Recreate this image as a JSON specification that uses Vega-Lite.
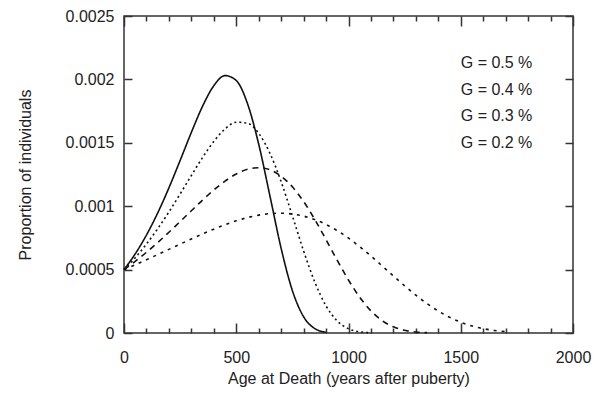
{
  "$schema": "https://vega.github.io/schema/vega-lite/v6.json",
  "width": 449,
  "height": 317,
  "autosize": {"type": "none"},
  "padding": {"left": 124, "top": 16, "right": 31, "bottom": 61},
  "background": "white",
  "config": {
    "font": "Liberation Sans",
    "view": {"stroke": "#333", "strokeWidth": 1.5},
    "axis": {
      "domain": false,
      "grid": false,
      "tickColor": "#333",
      "tickWidth": 1.5,
      "labelFont": "Liberation Sans",
      "labelFontSize": 16,
      "labelColor": "#222",
      "titleFont": "Liberation Sans",
      "titleFontSize": 16,
      "titleFontWeight": "normal",
      "titleColor": "#222"
    }
  },
  "datasets": {
    "curves": [
      {"t": 0, "p": 0.0005, "G": "0.5"},
      {"t": 50, "p": 0.000624, "G": "0.5"},
      {"t": 100, "p": 0.0007726, "G": "0.5"},
      {"t": 150, "p": 0.0009466, "G": "0.5"},
      {"t": 200, "p": 0.0011445, "G": "0.5"},
      {"t": 250, "p": 0.0013605, "G": "0.5"},
      {"t": 300, "p": 0.001582, "G": "0.5"},
      {"t": 350, "p": 0.0017886, "G": "0.5"},
      {"t": 400, "p": 0.0019503, "G": "0.5"},
      {"t": 450, "p": 0.00203, "G": "0.5"},
      {"t": 500, "p": 0.0019912, "G": "0.5"},
      {"t": 550, "p": 0.0018091, "G": "0.5"},
      {"t": 600, "p": 0.0014893, "G": "0.5"},
      {"t": 650, "p": 0.001081, "G": "0.5"},
      {"t": 700, "p": 0.0006673, "G": "0.5"},
      {"t": 750, "p": 0.0003344, "G": "0.5"},
      {"t": 800, "p": 0.0001283, "G": "0.5"},
      {"t": 850, "p": 0.0000349, "G": "0.5"},
      {"t": 900, "p": 0.0000061, "G": "0.5"},
      {"t": 0, "p": 0.0005, "G": "0.4"},
      {"t": 50, "p": 0.000594, "G": "0.4"},
      {"t": 100, "p": 0.0007014, "G": "0.4"},
      {"t": 150, "p": 0.0008221, "G": "0.4"},
      {"t": 200, "p": 0.0009547, "G": "0.4"},
      {"t": 250, "p": 0.0010965, "G": "0.4"},
      {"t": 300, "p": 0.0012422, "G": "0.4"},
      {"t": 350, "p": 0.001384, "G": "0.4"},
      {"t": 400, "p": 0.0015109, "G": "0.4"},
      {"t": 450, "p": 0.0016091, "G": "0.4"},
      {"t": 500, "p": 0.0016623, "G": "0.4"},
      {"t": 550, "p": 0.0016549, "G": "0.4"},
      {"t": 600, "p": 0.0015744, "G": "0.4"},
      {"t": 650, "p": 0.0014175, "G": "0.4"},
      {"t": 700, "p": 0.0011929, "G": "0.4"},
      {"t": 750, "p": 0.0009239, "G": "0.4"},
      {"t": 800, "p": 0.0006473, "G": "0.4"},
      {"t": 850, "p": 0.0004009, "G": "0.4"},
      {"t": 900, "p": 0.0002137, "G": "0.4"},
      {"t": 950, "p": 0.0000948, "G": "0.4"},
      {"t": 1000, "p": 0.0000336, "G": "0.4"},
      {"t": 1050, "p": 0.0000091, "G": "0.4"},
      {"t": 1100, "p": 0.0000018, "G": "0.4"},
      {"t": 0, "p": 0.0005, "G": "0.3"},
      {"t": 50, "p": 0.0005655, "G": "0.3"},
      {"t": 100, "p": 0.0006367, "G": "0.3"},
      {"t": 150, "p": 0.0007133, "G": "0.3"},
      {"t": 200, "p": 0.0007944, "G": "0.3"},
      {"t": 250, "p": 0.0008787, "G": "0.3"},
      {"t": 300, "p": 0.0009642, "G": "0.3"},
      {"t": 350, "p": 0.0010484, "G": "0.3"},
      {"t": 400, "p": 0.0011277, "G": "0.3"},
      {"t": 450, "p": 0.001198, "G": "0.3"},
      {"t": 500, "p": 0.0012543, "G": "0.3"},
      {"t": 550, "p": 0.0012914, "G": "0.3"},
      {"t": 600, "p": 0.0013038, "G": "0.3"},
      {"t": 650, "p": 0.0012867, "G": "0.3"},
      {"t": 700, "p": 0.0012368, "G": "0.3"},
      {"t": 750, "p": 0.0011529, "G": "0.3"},
      {"t": 800, "p": 0.0010371, "G": "0.3"},
      {"t": 850, "p": 0.0008948, "G": "0.3"},
      {"t": 900, "p": 0.000736, "G": "0.3"},
      {"t": 950, "p": 0.0005726, "G": "0.3"},
      {"t": 1000, "p": 0.0004172, "G": "0.3"},
      {"t": 1050, "p": 0.000282, "G": "0.3"},
      {"t": 1100, "p": 0.0001746, "G": "0.3"},
      {"t": 1150, "p": 0.0000976, "G": "0.3"},
      {"t": 1200, "p": 0.0000485, "G": "0.3"},
      {"t": 1250, "p": 0.000021, "G": "0.3"},
      {"t": 1300, "p": 0.0000077, "G": "0.3"},
      {"t": 1350, "p": 0.0000024, "G": "0.3"},
      {"t": 0, "p": 0.0005, "G": "0.2"},
      {"t": 50, "p": 0.0005382, "G": "0.2"},
      {"t": 100, "p": 0.0005778, "G": "0.2"},
      {"t": 150, "p": 0.0006184, "G": "0.2"},
      {"t": 200, "p": 0.0006596, "G": "0.2"},
      {"t": 250, "p": 0.000701, "G": "0.2"},
      {"t": 300, "p": 0.0007418, "G": "0.2"},
      {"t": 350, "p": 0.0007815, "G": "0.2"},
      {"t": 400, "p": 0.0008191, "G": "0.2"},
      {"t": 450, "p": 0.0008538, "G": "0.2"},
      {"t": 500, "p": 0.0008845, "G": "0.2"},
      {"t": 550, "p": 0.0009101, "G": "0.2"},
      {"t": 600, "p": 0.0009295, "G": "0.2"},
      {"t": 650, "p": 0.0009414, "G": "0.2"},
      {"t": 700, "p": 0.0009447, "G": "0.2"},
      {"t": 750, "p": 0.0009384, "G": "0.2"},
      {"t": 800, "p": 0.0009218, "G": "0.2"},
      {"t": 850, "p": 0.0008944, "G": "0.2"},
      {"t": 900, "p": 0.000856, "G": "0.2"},
      {"t": 950, "p": 0.0008069, "G": "0.2"},
      {"t": 1000, "p": 0.000748, "G": "0.2"},
      {"t": 1050, "p": 0.0006806, "G": "0.2"},
      {"t": 1100, "p": 0.0006069, "G": "0.2"},
      {"t": 1150, "p": 0.000529, "G": "0.2"},
      {"t": 1200, "p": 0.0004497, "G": "0.2"},
      {"t": 1250, "p": 0.0003721, "G": "0.2"},
      {"t": 1300, "p": 0.0002984, "G": "0.2"},
      {"t": 1350, "p": 0.0002315, "G": "0.2"},
      {"t": 1400, "p": 0.0001731, "G": "0.2"},
      {"t": 1450, "p": 0.0001241, "G": "0.2"},
      {"t": 1500, "p": 0.0000851, "G": "0.2"},
      {"t": 1550, "p": 0.0000554, "G": "0.2"},
      {"t": 1600, "p": 0.0000342, "G": "0.2"},
      {"t": 1650, "p": 0.0000198, "G": "0.2"},
      {"t": 1700, "p": 0.0000107, "G": "0.2"}
    ],
    "labels": [
      {"x": 1500, "y": 0.00213, "label": "G = 0.5 %"},
      {"x": 1500, "y": 0.00192, "label": "G = 0.4 %"},
      {"x": 1500, "y": 0.00171, "label": "G = 0.3 %"},
      {"x": 1500, "y": 0.0015, "label": "G = 0.2 %"}
    ]
  },
  "layer": [
    {
      "data": {"name": "curves"},
      "mark": {"type": "line", "interpolate": "monotone", "color": "#111", "strokeWidth": 1.6},
      "encoding": {
        "x": {
          "field": "t", "type": "quantitative",
          "scale": {"domain": [0, 2000], "nice": false},
          "axis": {
            "orient": "bottom",
            "title": "Age at Death (years after puberty)",
            "values": [0, 100, 200, 300, 400, 500, 600, 700, 800, 900, 1000, 1100, 1200, 1300, 1400, 1500, 1600, 1700, 1800, 1900, 2000],
            "labelExpr": "datum.value % 500 === 0 ? datum.label : ''",
            "format": "d",
            "tickSize": {"condition": {"test": "datum.value % 500 === 0", "value": -10}, "value": -5},
            "labelPadding": 26,
            "labelFlush": false,
            "labelOverlap": false,
            "titlePadding": 0
          }
        },
        "y": {
          "field": "p", "type": "quantitative",
          "scale": {"domain": [0, 0.0025], "nice": false},
          "axis": {
            "orient": "left",
            "title": "Proportion of individuals",
            "values": [0, 0.0005, 0.001, 0.0015, 0.002, 0.0025],
            "format": "~g",
            "tickSize": -8,
            "labelPadding": 18,
            "labelFlush": false,
            "labelOverlap": false,
            "titlePadding": 32
          }
        },
        "strokeDash": {
          "field": "G", "type": "nominal",
          "scale": {"domain": ["0.5", "0.4", "0.3", "0.2"], "range": [[1, 0], [2, 3], [6, 5], [3, 5]]},
          "legend": null
        }
      }
    },
    {
      "data": {"name": "labels"},
      "mark": {"type": "text", "align": "left", "baseline": "middle", "fontSize": 16, "font": "Liberation Sans", "color": "#222"},
      "encoding": {
        "x": {
          "field": "x", "type": "quantitative",
          "scale": {"domain": [0, 2000], "nice": false},
          "axis": {
            "orient": "top",
            "title": null,
            "labels": false,
            "values": [0, 100, 200, 300, 400, 500, 600, 700, 800, 900, 1000, 1100, 1200, 1300, 1400, 1500, 1600, 1700, 1800, 1900, 2000],
            "tickSize": {"condition": {"test": "datum.value % 500 === 0", "value": -10}, "value": -5}
          }
        },
        "y": {
          "field": "y", "type": "quantitative",
          "scale": {"domain": [0, 0.0025], "nice": false},
          "axis": {
            "orient": "right",
            "title": null,
            "labels": false,
            "values": [0, 0.0005, 0.001, 0.0015, 0.002, 0.0025],
            "tickSize": -8
          }
        },
        "text": {"field": "label"}
      }
    }
  ],
  "resolve": {"axis": {"x": "independent", "y": "independent"}}
}
